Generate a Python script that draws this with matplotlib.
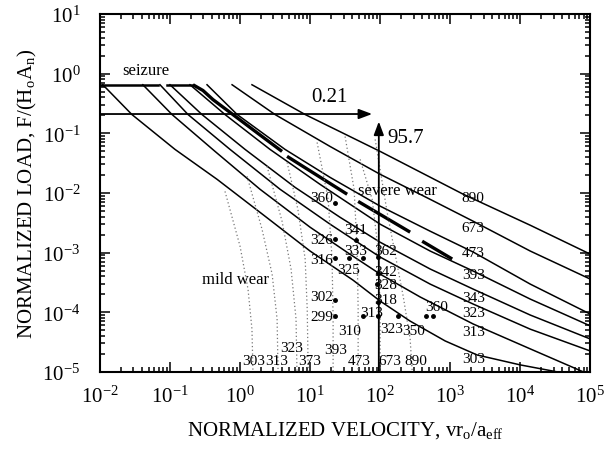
import matplotlib.pyplot as plt
import numpy as np

plt.rcParams['font.family'] = ['Liberation Serif', 'DejaVu Serif']
plt.rcParams['mathtext.fontset'] = 'custom'
plt.rcParams['mathtext.rm'] = 'Liberation Serif'
plt.rcParams['mathtext.it'] = 'Liberation Serif:italic'

# seizure plateau
F_seize = 0.65
seize_v1 = [0.01, 0.067]
seize_v2 = [0.091, 0.213]

# solid lines: flash temperature contours (K)
v_303 = [0.011, 0.0286, 0.118, 0.47, 2.28, 10, 41, 100, 268, 848, 2430, 10000, 33800]
F_303 = [0.65, 0.206, 0.0536, 0.0169, 0.00406, 0.00106, 0.000345, 0.000154, 7.1e-5, 3.3e-5, 1.92e-5, 1.31e-5, 1.0e-5]
v_313 = [0.041, 0.107, 0.44, 1.93, 10, 37, 100, 373, 2130, 13900, 79400]
F_313 = [0.65, 0.206, 0.0496, 0.0115, 0.00266, 0.00094, 0.000435, 0.00018, 6.35e-5, 2.43e-5, 1.0e-5]
v_323 = [0.072, 0.181, 0.72, 3.73, 19.3, 100, 518, 2130, 13900, 1e5]
F_323 = [0.65, 0.206, 0.0536, 0.0115, 0.00299, 0.00084, 0.000296, 0.000137, 5.2e-5, 2.24e-5]
v_343 = [0.1, 0.286, 1.18, 6.1, 26.8, 100, 518, 2130, 13900, 1e5]
F_343 = [0.65, 0.206, 0.0536, 0.0124, 0.0039, 0.00149, 0.00053, 0.000244, 8.97e-5, 3.56e-5]
v_393 = [0.193, 0.61, 2.68, 13.9, 100, 518, 2130, 13900, 1e5]
F_393 = [0.65, 0.206, 0.0536, 0.0139, 0.00299, 0.00106, 0.00049, 0.000166, 5.9e-5]
v_473 = [0.338, 0.91, 4.39, 19.3, 100, 518, 2130, 13900, 1e5]
F_473 = [0.65, 0.206, 0.0536, 0.0182, 0.006, 0.00228, 0.00102, 0.000296, 9.3e-5]
v_673 = [0.77, 3.16, 19.3, 100, 518, 2130, 13900, 1e5]
F_673 = [0.65, 0.206, 0.06, 0.0205, 0.0078, 0.00335, 0.00106, 0.000359]
v_890 = [1.48, 8.5, 100, 1535, 13900, 1e5]
F_890 = [0.65, 0.206, 0.0496, 0.0095, 0.00287, 0.00094]

# thick seizure / severe wear boundary, drawn in pieces
bnd_v = [[0.213, 0.296, 0.41, 0.79, 1.81, 3.98], [4.69, 33.8], [48.5, 268], [398, 1068]]
bnd_F = [[0.65, 0.52, 0.367, 0.206, 0.099, 0.0496], [0.041, 0.0095], [0.0072, 0.0022], [0.00155, 0.00078]]

# dotted lines: bulk temperature contours (K)
dv_303 = [0.61, 1.0, 1.3, 1.48, 1.53]
dF_303 = [0.0106, 0.00128, 0.000244, 5.2e-5, 1e-5]
dv_313 = [1.26, 2.06, 2.87, 3.38, 3.49]
dF_313 = [0.019, 0.00246, 0.000435, 7.7e-5, 1e-5]
dv_323 = [2.43, 3.98, 5.35, 6.3, 6.5]
dF_323 = [0.0279, 0.00335, 0.00053, 7.7e-5, 1e-5]
dv_373 = [4.7, 6.7, 8.5, 9.1, 9.4]
dF_373 = [0.0325, 0.0053, 0.00078, 0.000113, 1e-5]
dv_393 = [12.6, 18.1, 20.6, 21.3, 21.3]
dF_393 = [0.070, 0.0078, 0.00078, 7.7e-5, 1e-5]
dv_473 = [31.6, 42.5, 46.9, 48.5, 48.5]
dF_473 = [0.088, 0.0115, 0.00114, 0.000113, 1e-5]
dv_673 = [51.8, 76.9, 93.6, 100, 100]
dF_673 = [0.0365, 0.0078, 0.00114, 0.000113, 1e-5]
dv_890 = [84.9, 126, 213, 268, 287]
dF_890 = [0.0788, 0.0047, 0.000187, 3.56e-5, 1e-5]

# measured points
pt_v = [22.8, 22.8, 22.8, 45.4, 36.1, 57.2, 93.6, 93.6, 90.6, 93.6, 22.8, 22.8, 57.2, 93.6, 181, 454, 571]
pt_F = [0.0067, 0.00168, 0.00081, 0.00161, 0.00081, 0.00081, 0.00084, 0.000453, 0.000296, 0.000148,
        0.00016, 8.6e-5, 8.6e-5, 8.6e-5, 8.6e-5, 8.6e-5, 8.6e-5]

fig = plt.figure(figsize=(6.13, 4.52), dpi=100)
ax = fig.add_axes([0.163, 0.175, 0.8, 0.792])

ax.plot(seize_v1, [F_seize, F_seize], color='black', lw=1.8)
ax.plot(seize_v2, [F_seize, F_seize], color='black', lw=1.8)

solid = [(v_303, F_303), (v_313, F_313), (v_323, F_323), (v_343, F_343),
         (v_393, F_393), (v_473, F_473), (v_673, F_673), (v_890, F_890)]
for v, F in solid:
    ax.plot(v, F, color='black', lw=1.1)

for v, F in zip(bnd_v, bnd_F):
    ax.plot(v, F, color='black', lw=2.4, solid_capstyle='butt')

dotted = [(dv_303, dF_303), (dv_313, dF_313), (dv_323, dF_323), (dv_373, dF_373),
          (dv_393, dF_393), (dv_473, dF_473), (dv_673, dF_673), (dv_890, dF_890)]
for v, F in dotted:
    ax.plot(v, F, color='#777777', lw=0.9, ls=(0, (1, 2)))

ax.plot(pt_v, pt_F, 'o', color='black', ms=2.5)

# arrows
ax.annotate('', xy=(76.9, 0.21), xytext=(0.01, 0.21),
            arrowprops=dict(arrowstyle='-|>,head_length=0.8,head_width=0.3', color='black', lw=1.3,
                            shrinkA=0, shrinkB=0))
ax.annotate('', xy=(95.7, 0.157), xytext=(95.7, 1e-5),
            arrowprops=dict(arrowstyle='-|>,head_length=0.8,head_width=0.3', color='black', lw=1.3,
                            shrinkA=0, shrinkB=0))
ax.text(18.7, 0.41, '0.21', fontsize=15, ha='center', va='center')
ax.text(228, 0.085, '95.7', fontsize=15, ha='center', va='center')

ax.text(0.0454, 1.17, 'seizure', fontsize=12, ha='center', va='center')
ax.text(175, 0.011, 'severe wear', fontsize=12, ha='center', va='center')
ax.text(0.85, 0.00036, 'mild wear', fontsize=12, ha='center', va='center')

# right-hand labels of the flash temperature lines
right_labels = ['890', '673', '473', '393', '343', '323', '313', '303']
right_F = [0.0084, 0.00266, 0.00102, 0.000435, 0.00018, 0.0001, 4.67e-5, 1.65e-5]
for t, F in zip(right_labels, right_F):
    ax.text(2130, F, t, fontsize=11, ha='center', va='center')

# bottom labels of the bulk temperature lines
bottom_labels = ['303', '313', '323', '373', '393', '473', '673', '890']
bottom_v = [1.58, 3.38, 5.5, 9.7, 23.5, 50, 139, 327]
bottom_F = [1.53e-5, 1.53e-5, 2.6e-5, 1.53e-5, 2.4e-5, 1.53e-5, 1.53e-5, 1.53e-5]
for t, v, F in zip(bottom_labels, bottom_v, bottom_F):
    ax.text(v, F, t, fontsize=11, ha='center', va='center')

# labels of measured points
pt_labels = ['360', '326', '316', '341', '325', '333', '362', '342', '328', '318',
             '302', '299', '310', '313', '323', '360', '350']
pt_text_v = [14.5, 14.5, 14.5, 44, 36, 44, 118, 118, 118, 118, 14.5, 14.5, 37, 75, 145, 630, 300]
pt_text_F = [0.0083, 0.00168, 0.00078, 0.0024, 0.00052, 0.0011, 0.0011, 0.00049, 0.00029, 0.000166,
             0.000185, 8.6e-5, 5.0e-5, 0.0001, 5.4e-5, 0.000123, 5.0e-5]
for t, v, F in zip(pt_labels, pt_text_v, pt_text_F):
    ax.text(v, F, t, fontsize=11, ha='center', va='center')

ax.set_xscale('log')
ax.set_yscale('log')
ax.set_xlim(1e-2, 1e5)
ax.set_ylim(1e-5, 1e1)
ax.tick_params(which='both', direction='in', top=True, right=True, labelsize=15, width=1.1)
ax.tick_params(which='major', length=7)
ax.tick_params(which='minor', length=3.5)
ax.tick_params(axis='x', pad=10)
ax.tick_params(axis='y', pad=14)
ax.set_xticks([1e-2, 1e-1, 1e0, 1e1, 1e2, 1e3, 1e4, 1e5])
ax.set_yticks([1e-5, 1e-4, 1e-3, 1e-2, 1e-1, 1e0, 1e1])
for s in ax.spines.values():
    s.set_linewidth(1.5)

ax.set_xlabel(r'NORMALIZED VELOCITY, vr$_\mathrm{o}$/a$_\mathrm{eff}$', fontsize=15, labelpad=9)
ax.set_ylabel(r'NORMALIZED LOAD, F/(H$_\mathrm{o}$A$_\mathrm{n}$)', fontsize=15, labelpad=2)

fig.savefig('out.png', dpi=100)
